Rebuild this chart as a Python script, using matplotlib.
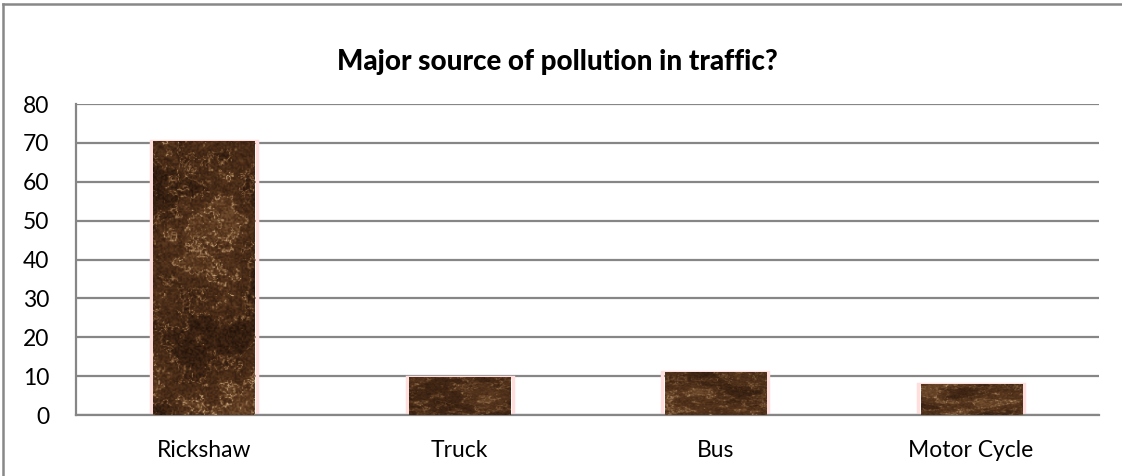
import numpy as np
import matplotlib.pyplot as plt
from matplotlib.colors import LinearSegmentedColormap
from matplotlib.lines import Line2D

# data
categories = ["Rickshaw", "Truck", "Bus", "Motor Cycle"]
values = [70.4, 9.8, 11.1, 7.9]
yticks = [0, 10, 20, 30, 40, 50, 60, 70, 80]
title = "Major source of pollution in traffic?"

plt.rcParams["font.family"] = ["Lato", "DejaVu Sans"]


# hash-based value noise for the marble fill (deterministic, style only)
def hash2(i, j, seed):
    v = np.sin(i * 12.9898 + j * 78.233 + seed * 37.719) * 43758.5453
    return v - np.floor(v)


def value_noise(nx, ny, cell, seed):
    gx = np.arange(nx) / cell
    gy = np.arange(ny) / cell
    xx, yy = np.meshgrid(gx, gy)
    i0, j0 = np.floor(xx), np.floor(yy)
    fx, fy = xx - i0, yy - j0
    fx = fx * fx * (3 - 2 * fx)
    fy = fy * fy * (3 - 2 * fy)
    a = hash2(i0, j0, seed)
    b = hash2(i0 + 1, j0, seed)
    c = hash2(i0, j0 + 1, seed)
    d = hash2(i0 + 1, j0 + 1, seed)
    return (a * (1 - fx) + b * fx) * (1 - fy) + (c * (1 - fx) + d * fx) * fy


def marble(nx=110, ny=290, seed=0):
    n = (0.5 * value_noise(nx, ny, 40, seed)
         + 0.25 * value_noise(nx, ny, 16, seed + 1)
         + 0.15 * value_noise(nx, ny, 6, seed + 2)
         + 0.10 * value_noise(nx, ny, 2, seed + 3))
    veins = 1 - np.abs(np.sin(n * 14))
    veins = veins ** 6
    grain = value_noise(nx, ny, 1.5, seed + 7)
    t = 0.45 * n + 0.35 * veins + 0.2 * grain
    t = (t - t.min()) / (t.max() - t.min())
    return t


cmap = LinearSegmentedColormap.from_list(
    "marble", ["#1f1008", "#3a2212", "#55341c", "#7a5533", "#b08c65", "#d8bd98"])

fig = plt.figure(figsize=(11.22, 4.76), dpi=100)
ax = fig.add_axes([0.0677, 0.128, 0.9118, 0.6535])

x = np.arange(len(categories))
width = 0.395

# pink glow edge behind the bars
ax.bar(x, values, width=width + 0.02, color="none", edgecolor="#ffdede",
       linewidth=2.5, zorder=2)
bars = ax.bar(x, values, width=width, color="#3a2212", zorder=3)

for i, b in enumerate(bars):
    x0 = b.get_x()
    h = b.get_height()
    img = ax.imshow(marble(seed=i * 5 + 1), cmap=cmap, aspect="auto",
                    extent=(x0, x0 + width, 0, max(h, 20)), origin="lower",
                    zorder=4, interpolation="bilinear")
    img.set_clip_path(b)

ax.set_xlim(-0.5, 3.5)
ax.set_ylim(0, 80)
ax.set_yticks(yticks)
ax.set_xticks(x)
ax.set_xticklabels(categories)
ax.tick_params(axis="both", length=0, labelsize=16.5, colors="black")
ax.tick_params(axis="x", pad=18)
ax.tick_params(axis="y", pad=19)
ax.yaxis.grid(True, color="#868686", linewidth=1.6, zorder=0)
ax.set_axisbelow(True)
for s in ["top", "right"]:
    ax.spines[s].set_visible(False)
for s in ["left", "bottom"]:
    ax.spines[s].set_color("#868686")
    ax.spines[s].set_linewidth(1.6)

fig.text(0.497, 0.87, title, ha="center", va="center", fontsize=20,
         fontweight="black")

# outer frame (top and left visible)
fig.add_artist(Line2D([0.003, 1.0], [0.991, 0.991], color="#888888",
                      linewidth=1.8, transform=fig.transFigure))
fig.add_artist(Line2D([0.003, 0.003], [0.0, 0.991], color="#888888",
                      linewidth=1.8, transform=fig.transFigure))

fig.savefig("out.png", dpi=100)
